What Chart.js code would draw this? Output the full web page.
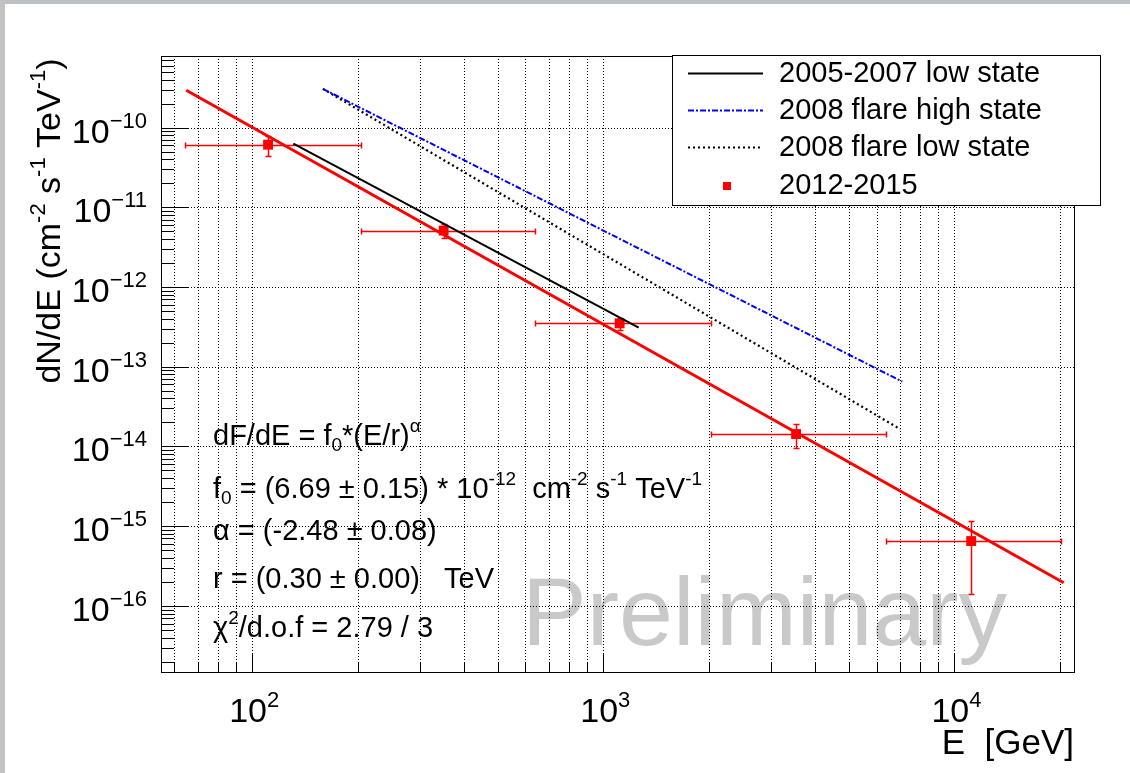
<!DOCTYPE html>
<html>
<head>
<meta charset="utf-8">
<script src="https://cdn.jsdelivr.net/npm/chart.js@4.4.1/dist/chart.umd.min.js"></script>
<style>
    html, body { margin: 0; padding: 0; background: #fff; }
    #wrap { position: relative; width: 1130px; height: 773px; overflow: hidden; }
    #grafico { position: absolute; left: 0; top: 0; }
    .borda-topo { position: absolute; left: 0; top: 0; width: 1130px; height: 4px; background: #bcc0c4; }
    .borda-esq { position: absolute; left: 0; top: 0; width: 5px; height: 773px; background: #c3c2c0; }
</style>
</head>
<body>
<div id="wrap">
    <canvas id="grafico" width="1130" height="773"></canvas>
    <div class="borda-topo"></div>
    <div class="borda-esq"></div>
</div>
<script>
// 2012-2015 points (E in GeV, flux in cm^-2 s^-1 TeV^-1)
const pointEnergy = [111, 351, 1113, 3540, 11160];
const pointFlux = [6.1e-11, 5.1e-12, 3.5e-13, 1.43e-14, 6.5e-16];
const binLow = [64.5, 204, 641, 2020, 6380];
const binHigh = [204, 641, 2020, 6380, 20100];
const fluxErr = [1.75e-11, 1.0e-12, 0.64e-13, 4.7e-15, 5.1e-16];

// fitted power law, drawn between its two end points
const fitEnergy = [64.9, 20470];
const fitFlux = [2.94e-10, 1.95e-16];

// earlier spectra
const low0507Energy = [131, 1261];
const low0507Flux = [6.29e-11, 3.10e-13];
const flareHighEnergy = [159, 7100];
const flareHighFlux = [3.06e-10, 6.5e-14];
const flareLowEnergy = [159, 7015];
const flareLowFlux = [3.06e-10, 1.64e-14];

// axes
const xMajor = [100, 1000, 10000];
const xMajorLabels = ["2", "3", "4"];
const xMinor = [60, 70, 80, 90, 200, 300, 400, 500, 600, 700, 800, 900,
    2000, 3000, 4000, 5000, 6000, 7000, 8000, 9000, 20000];
const yMajor = [1e-10, 1e-11, 1e-12, 1e-13, 1e-14, 1e-15, 1e-16];
const yMajorLabels = ["\u221210", "\u221211", "\u221212", "\u221213", "\u221214", "\u221215", "\u221216"];

const fitText = [
    [["dF/dE = f", ""], ["0", "sub"], ["*(E/r)", ""], ["\u03b1", "sup"]],
    [["f", ""], ["0", "sub"], [" = (6.69 \u00b1 0.15) * 10", ""], ["-12", "sup"], ["  cm", ""], ["-2", "sup"],
        [" s", ""], ["-1", "sup"], [" TeV", ""], ["-1", "sup"]],
    [["\u03b1 = (-2.48 \u00b1 0.08)", ""]],
    [["r = (0.30 \u00b1 0.00)   TeV", ""]],
    [["\u03c7", ""], ["2", "sup"], ["/d.o.f = 2.79 / 3", ""]]
];
const fitTextBaselines = [445, 498, 540, 588, 637];

const FONT = '"Liberation Sans", Arial, Helvetica, sans-serif';

function pares(xs, ys) {
    return xs.map((x, i) => ({ x, y: ys[i] }));
}

function textoRico(ctx, parts, x, y, size, align) {
    const small = Math.round(size * 0.64);
    let total = 0;
    parts.forEach(([t, k]) => {
        ctx.font = `${k ? small : size}px ${FONT}`;
        total += ctx.measureText(t).width;
    });
    let cx = x;
    if (align === "right") cx = x - total;
    if (align === "center") cx = x - total / 2;
    parts.forEach(([t, k]) => {
        ctx.font = `${k ? small : size}px ${FONT}`;
        let dy = 0;
        if (k === "sup") dy = -size * 0.44;
        if (k === "sub") dy = size * 0.22;
        ctx.fillText(t, cx, y + dy);
        cx += ctx.measureText(t).width;
    });
    return total;
}

function linha(ctx, x1, y1, x2, y2) {
    ctx.beginPath();
    ctx.moveTo(x1, y1);
    ctx.lineTo(x2, y2);
    ctx.stroke();
}

const estiloRoot = {
    id: "estiloRoot",
    beforeDatasetsDraw(chart) {
        const { ctx, chartArea: a, scales: { x, y } } = chart;
        ctx.save();

        ctx.fillStyle = "#c9c9c9";
        ctx.font = `97px ${FONT}`;
        ctx.textBaseline = "alphabetic";
        ctx.fillText("Preliminary", 522, 645);

        // dotted grid
        ctx.strokeStyle = "#000";
        ctx.lineWidth = 1;
        ctx.setLineDash([1, 2]);
        xMajor.concat(xMinor).forEach(v => {
            const px = Math.round(x.getPixelForValue(v)) + 0.5;
            linha(ctx, px, a.top, px, a.bottom);
        });
        yMajor.forEach(v => {
            const py = Math.round(y.getPixelForValue(v)) + 0.5;
            linha(ctx, a.left, py, a.right, py);
        });
        ctx.setLineDash([]);

        // error bars of the 2012-2015 points
        ctx.strokeStyle = "#ff0000";
        ctx.lineWidth = 1.5;
        pointEnergy.forEach((e, i) => {
            const py = Math.round(y.getPixelForValue(pointFlux[i])) + 0.5;
            const px = Math.round(x.getPixelForValue(e)) + 0.5;
            const x1 = Math.round(x.getPixelForValue(binLow[i])) + 0.5;
            const x2 = Math.round(x.getPixelForValue(binHigh[i])) + 0.5;
            const y1 = Math.round(y.getPixelForValue(pointFlux[i] + fluxErr[i])) + 0.5;
            const y2 = Math.round(y.getPixelForValue(pointFlux[i] - fluxErr[i])) + 0.5;
            linha(ctx, x1, py, x2, py);
            linha(ctx, x1, py - 3, x1, py + 3);
            linha(ctx, x2, py - 3, x2, py + 3);
            linha(ctx, px, y1, px, y2);
            linha(ctx, px - 3, y1, px + 3, y1);
            linha(ctx, px - 3, y2, px + 3, y2);
        });
        ctx.restore();
    },
    afterDraw(chart) {
        const { ctx, chartArea: a, scales: { x, y } } = chart;
        ctx.save();
        ctx.strokeStyle = "#000";
        ctx.fillStyle = "#000";
        ctx.lineWidth = 1;

        // frame
        ctx.strokeRect(a.left + 0.5, a.top + 0.5, a.right - a.left, a.bottom - a.top);

        // ticks inside the frame
        xMajor.forEach(v => {
            const px = Math.round(x.getPixelForValue(v)) + 0.5;
            linha(ctx, px, a.bottom, px, a.bottom - 18);
        });
        xMinor.forEach(v => {
            const px = Math.round(x.getPixelForValue(v)) + 0.5;
            linha(ctx, px, a.bottom, px, a.bottom - 9);
        });
        yMajor.forEach(v => {
            const py = Math.round(y.getPixelForValue(v)) + 0.5;
            linha(ctx, a.left, py, a.left + 28, py);
        });
        for (let d = -17; d <= -10; d++) {
            for (let m = 2; m <= 9; m++) {
                const v = m * Math.pow(10, d);
                if (v < y.min || v > y.max) continue;
                const py = Math.round(y.getPixelForValue(v)) + 0.5;
                linha(ctx, a.left, py, a.left + 13, py);
            }
        }

        // tick labels
        ctx.textBaseline = "alphabetic";
        yMajor.forEach((v, i) => {
            const py = y.getPixelForValue(v);
            textoRico(ctx, [["10", ""], [yMajorLabels[i], "sup"]], 147, py + 15, 34, "right");
        });
        xMajor.forEach((v, i) => {
            const px = x.getPixelForValue(v);
            textoRico(ctx, [["10", ""], [xMajorLabels[i], "sup"]], px + 2, 722, 34, "center");
        });

        // axis titles
        textoRico(ctx, [["E  [GeV]", ""]], 1074, 754, 35, "right");
        ctx.save();
        ctx.translate(60, 221);
        ctx.rotate(-Math.PI / 2);
        textoRico(ctx, [["dN/dE (cm", ""], ["-2", "sup"], [" s", ""], ["-1", "sup"], [" TeV", ""], ["-1", "sup"], [")", ""]],
            0, 0, 34, "center");
        ctx.restore();

        // fit parameters
        fitText.forEach((parts, i) => {
            textoRico(ctx, parts, 213, fitTextBaselines[i], 29, "left");
        });

        // legend
        ctx.fillStyle = "#fff";
        ctx.fillRect(672.5, 55.5, 428, 150);
        ctx.strokeRect(672.5, 55.5, 428, 150);
        const entradas = chart.data.datasets.filter(ds => ds.label !== "fit");
        const linhasY = [73, 110, 147, 185];
        entradas.forEach((ds, i) => {
            const ly = linhasY[i];
            if (ds.showLine === false) {
                ctx.fillStyle = ds.backgroundColor;
                ctx.fillRect(723, ly - 3, 8, 8);
            } else {
                ctx.strokeStyle = ds.borderColor;
                ctx.lineWidth = 2;
                ctx.setLineDash(ds.borderDash || []);
                linha(ctx, 688, ly + 0.5, 763, ly + 0.5);
                ctx.setLineDash([]);
            }
            ctx.fillStyle = "#000";
            ctx.font = `29px ${FONT}`;
            ctx.textBaseline = "middle";
            ctx.fillText(ds.label, 779, ly + 1);
        });
        ctx.restore();
    }
};

const canvas = document.getElementById("grafico");

new Chart(canvas, {
    type: "scatter",
    data: {
        datasets: [
            {
                label: "fit",
                data: pares(fitEnergy, fitFlux),
                showLine: true,
                borderColor: "#ff0000",
                borderWidth: 3,
                pointRadius: 0
            },
            {
                label: "2005-2007 low state",
                data: pares(low0507Energy, low0507Flux),
                showLine: true,
                borderColor: "#000000",
                borderWidth: 2,
                pointRadius: 0
            },
            {
                label: "2008 flare high state",
                data: pares(flareHighEnergy, flareHighFlux),
                showLine: true,
                borderColor: "#0000ff",
                borderWidth: 2,
                borderDash: [6, 2, 2, 2],
                pointRadius: 0
            },
            {
                label: "2008 flare low state",
                data: pares(flareLowEnergy, flareLowFlux),
                showLine: true,
                borderColor: "#000000",
                borderWidth: 2.2,
                borderDash: [2, 3],
                pointRadius: 0
            },
            {
                label: "2012-2015",
                data: pares(pointEnergy, pointFlux),
                showLine: false,
                pointStyle: "rect",
                pointRadius: 7,
                backgroundColor: "#ff0000",
                borderWidth: 0
            }
        ]
    },
    options: {
        responsive: false,
        animation: false,
        layout: { padding: { left: 161, top: 56, right: 56, bottom: 101 } },
        scales: {
            x: { type: "logarithmic", min: 55, max: 21900, display: false },
            y: { type: "logarithmic", min: 1.48e-17, max: 7.9e-10, display: false }
        },
        plugins: {
            legend: { display: false },
            tooltip: { enabled: false }
        },
        events: []
    },
    plugins: [estiloRoot]
});
</script>
</body>
</html>
